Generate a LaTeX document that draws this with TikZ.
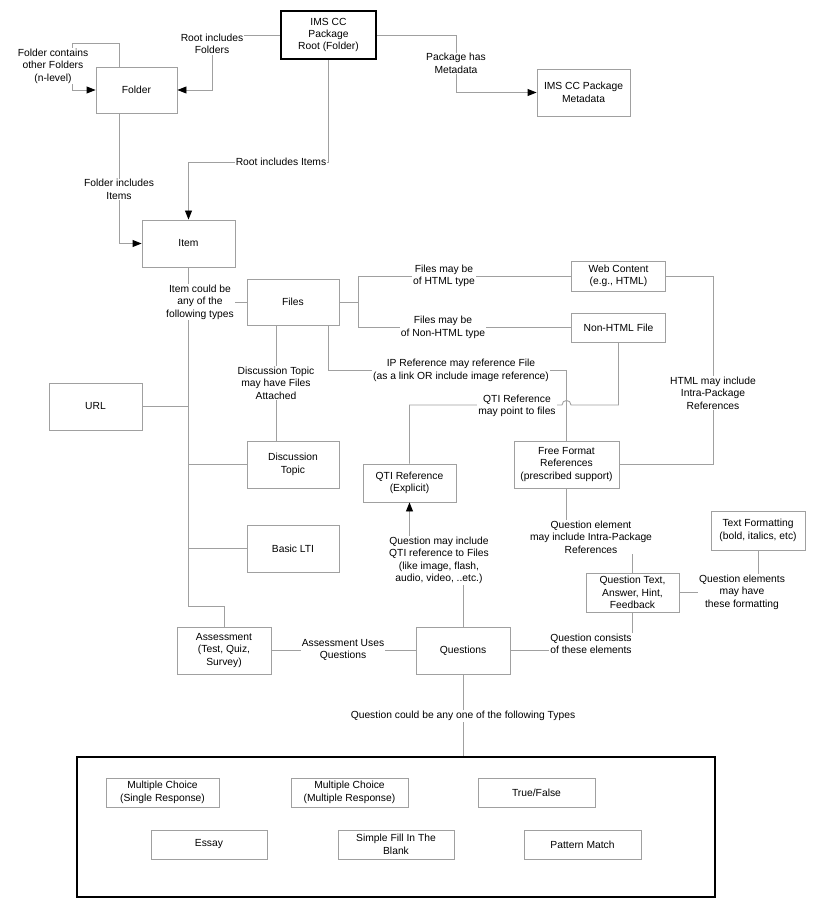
\documentclass[tikz,border=0pt]{standalone}
\usepackage{fontspec}
\setmainfont{Liberation Sans}
\usetikzlibrary{arrows.meta}
\definecolor{linegray}{RGB}{160,160,160}
\begin{document}
\begin{tikzpicture}[x=1pt,y=-1pt,
  every node/.style={font=\fontsize{10.3}{12.4}\selectfont, text=black},
  box/.style={draw=linegray, line width=0.9pt, fill=white, align=center, inner sep=1pt},
  thickbox/.style={draw=black, line width=2.8pt, fill=white, align=center, inner sep=1pt},
  conn/.style={draw=linegray, line width=0.9pt},
  arr/.style={conn, -{Triangle[length=9pt,width=7pt,color=black,fill=black]}},
  lbl/.style={fill=white, align=center, inner sep=1pt}]
\useasboundingbox[fill=white] (0,0) rectangle (812,909);

% boxes
\node[thickbox, minimum width=95, minimum height=48] (root) at (328.5,35) {IMS CC\\Package\\Root (Folder)};
\node[box, minimum width=81, minimum height=46] (folder) at (136.5,90) {Folder};
\node[box, minimum width=93, minimum height=47] (meta) at (583.5,92.5) {IMS CC Package\\Metadata};
\node[box, minimum width=93, minimum height=47] (item) at (188.5,243.5) {Item};
\node[box, minimum width=92, minimum height=46] (files) at (293,302) {Files};
\node[box, minimum width=94, minimum height=30] (web) at (618.5,276) {Web Content\\(e.g., HTML)};
\node[box, minimum width=94, minimum height=29] (nonhtml) at (618.5,327.5) {Non-HTML File};
\node[box, minimum width=93, minimum height=47] (url) at (95.5,406.5) {URL};
\node[box, minimum width=92, minimum height=47] (disc) at (293,464.5) {Discussion\\Topic};
\node[box, minimum width=92, minimum height=47] (lti) at (293,548.5) {Basic LTI};
\node[box, minimum width=93, minimum height=38] (qti) at (409.5,483) {QTI Reference\\(Explicit)};
\node[box, minimum width=105, minimum height=47] (free) at (566.5,464.5) {Free Format\\References\\(prescribed support)};
\node[box, minimum width=94, minimum height=39] (textfmt) at (758,530.5) {Text Formatting\\(bold, italics, etc)};
\node[box, minimum width=93, minimum height=39] (qtext) at (632.5,592.5) {Question Text,\\Answer, Hint,\\Feedback};
\node[box, minimum width=94, minimum height=47] (assess) at (224,650.5) {Assessment\\(Test, Quiz,\\Survey)};
\node[box, minimum width=94, minimum height=47] (questions) at (463,650.5) {Questions};
\node[thickbox, minimum width=638, minimum height=140] (types) at (396,827) {};
\node[box, minimum width=113, minimum height=29] (mc1) at (162.5,792.5) {Multiple Choice\\(Single Response)};
\node[box, minimum width=117, minimum height=29] (mc2) at (349.5,792.5) {Multiple Choice\\(Multiple Response)};
\node[box, minimum width=117, minimum height=29] (tf) at (536.5,792.5) {True/False};
\node[box, minimum width=116, minimum height=29] (essay) at (209,844.5) {Essay};
\node[box, minimum width=116, minimum height=29] (fillblank) at (396,844.5) {Simple Fill In The\\Blank};
\node[box, minimum width=117, minimum height=29] (pattern) at (582.5,844.5) {Pattern Match};

% connectors
\draw[arr] (root.west) -- (212,35) |- (folder.east);
\draw[arr] ([xshift=-17.5]folder.north) |- (72,43) |- (folder.west);
\draw[arr] (root.east) -- (456,35) |- (meta.west);
\draw[arr] (root.south) -- (328.5,162) -| (item.north);
\draw[arr] ([xshift=-17.5]folder.south) |- (item.west);
\draw[conn] (item.south) -- (188.5,606) -| (assess.north);
\draw[conn] (files.west) -- (files.west -| item.south);
\draw[conn] (url.east) -- (url.east -| item.south);
\draw[conn] (disc.west) -- (disc.west -| item.south);
\draw[conn] (lti.west) -- (lti.west -| item.south);
\draw[conn] (files.east) -- (358,302);
\draw[conn] (web.west) -- (358,276) -- (358,327.5) -- (nonhtml.west);
\draw[conn] (web.east) -- (713,276) |- (free.east);
\draw[conn] ([xshift=-17]files.south) -- ([xshift=-17]disc.north);
\draw[conn] ([xshift=35]files.south) |- (566.5,370) -- (free.north);
\draw[conn] (nonhtml.south) |- (571,405) .. controls (571,399) and (562,399) .. (562,405) -| (qti.north);
\draw[conn] (free.south) -- (566.5,537) -| (qtext.north);
\draw[conn] (textfmt.south) |- (qtext.east);
\draw[conn] (assess.east) -- (questions.west);
\draw[conn] (questions.east) -- (632.5,650.5) -- (qtext.south);
\draw[arr] (questions.north) -- (463,560) -| (qti.south);
\draw[conn] (questions.south) -- (questions.south |- types.north);

% labels
\node[lbl] (l1) at (212,44) {Root includes\\Folders};
\node[lbl] (l2) at (53,66) {Folder contains\\other Folders\\(n-level)};
\node[lbl] (l3) at (456,63.5) {Package has\\Metadata};
\node[lbl] (l4) at (281,162) {Root includes Items};
\node[lbl] (l5) at (119,189.5) {Folder includes\\Items};
\node[lbl] (l6) at (200,302) {Item could be\\any of the\\following types};
\node[lbl] (l7) at (444,276) {Files may be\\of HTML type};
\node[lbl] (l8) at (443,327.5) {Files may be\\of Non-HTML type};
\node[lbl] (l9) at (276,383) {Discussion Topic\\may have Files\\Attached};
\node[lbl] (l10) at (461,370.5) {IP Reference may reference File\\(as a link OR include image reference)};
\node[lbl] (l11) at (517,406) {QTI Reference\\may point to files};
\node[lbl] (l12) at (713,393) {HTML may include\\Intra-Package\\References};
\node[lbl] (l13) at (591,537) {Question element\\may include Intra-Package\\References};
\node[lbl] (l14) at (742,592) {Question elements\\may have\\these formatting};
\node[lbl] (l15) at (439,560.5) {Question may include\\QTI reference to Files\\(like image, flash,\\audio, video, ..etc.)};
\node[lbl] (l16) at (343,650) {Assessment Uses\\Questions};
\node[lbl] (l17) at (591,644) {Question consists\\of these elements};
\node[lbl] (l18) at (463,716) {Question could be any one of the following Types};
\end{tikzpicture}
\end{document}
